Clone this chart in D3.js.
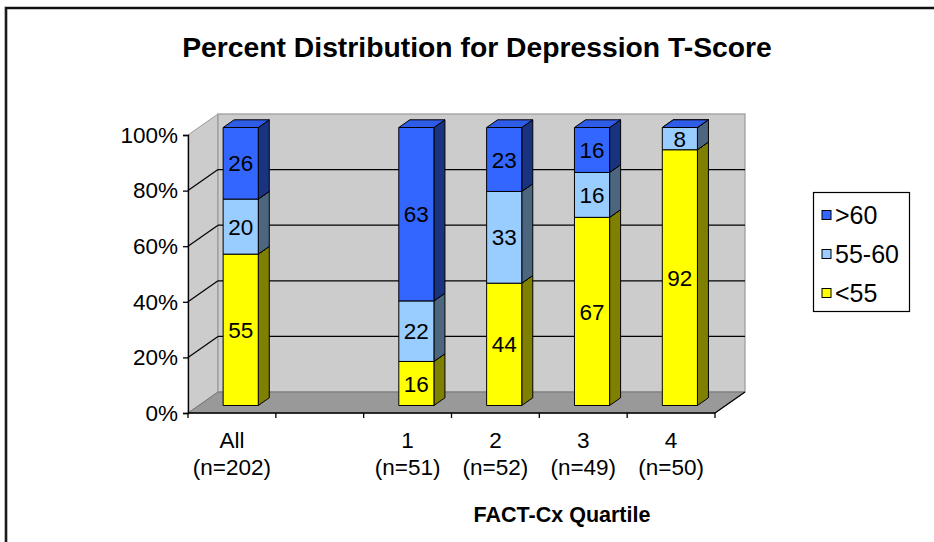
<!DOCTYPE html>
<html>
<head>
<meta charset="utf-8">
<script src="https://cdn.jsdelivr.net/npm/d3@7"></script>
<style>
  html, body { margin: 0; padding: 0; background: #ffffff; }
  svg { display: block; font-family: "Liberation Sans", Arial, sans-serif; }
</style>
</head>
<body>
<svg id="chart" width="934" height="542"></svg>
<script>
// Categories (the empty slot separates the overall group from the quartiles)
const categories = ["All", "", "1", "2", "3", "4"];
const sampleSizes = ["(n=202)", "", "(n=51)", "(n=52)", "(n=49)", "(n=50)"];

// Percent in each T-score band, per category
const below55 = [55, null, 16, 44, 67, 92];
const from55to60 = [20, null, 22, 33, 16, 8];
const above60 = [26, null, 63, 23, 16, 0];

const seriesNames = ["<55", "55-60", ">60"];
const tickLabels = ["0%", "20%", "40%", "60%", "80%", "100%"];
const tickValues = [0, 20, 40, 60, 80, 100];

const title = "Percent Distribution for Depression T-Score";
const xTitle = "FACT-Cx Quartile";

const colors = {
  "<55":   { front: "#ffff00", side: "#808000", top: "#e6e600" },
  "55-60": { front: "#99ccff", side: "#4d6680", top: "#8ab8e6" },
  ">60":   { front: "#3366ff", side: "#1a3380", top: "#2e5ce6" }
};

const svg = d3.select("#chart");

// Plot geometry: front plane and the depth offset to the back wall
const x0 = 188, x1 = 715;
const depth = { dx: 30, dy: -21 };
const bar = { dx: 11, dy: -7.7, front: { dx: 0, dy: -7.5 } };

const x = d3.scaleBand().domain(d3.range(categories.length)).range([x0, x1]).padding(0);
const y = d3.scaleLinear().domain([0, 100]).range([413, 135]);

// Outer frame (top and left edges)
svg.append("path")
  .attr("d", "M6,542 L6,8 L934,8")
  .attr("fill", "none").attr("stroke", "#888").attr("stroke-width", 3.2);
svg.append("path")
  .attr("d", "M6,542 L6,8 L934,8")
  .attr("fill", "none").attr("stroke", "#111").attr("stroke-width", 1.8);

// Title
svg.append("text")
  .attr("x", 477).attr("y", 57)
  .attr("text-anchor", "middle")
  .attr("font-size", 28.3).attr("font-weight", "bold")
  .text(title);

const yTop = y(100), yBot = y(0);

// Side wall
svg.append("polygon")
  .attr("points", [[x0, yTop], [x0 + depth.dx, yTop + depth.dy], [x0 + depth.dx, yBot + depth.dy], [x0, yBot]].join(" "))
  .attr("fill", "#cccccc").attr("stroke", "#999").attr("stroke-width", 1);

// Back wall
svg.append("rect")
  .attr("x", x0 + depth.dx).attr("y", yTop + depth.dy)
  .attr("width", x1 - x0).attr("height", yBot - yTop)
  .attr("fill", "#cccccc").attr("stroke", "#999").attr("stroke-width", 1.2);

// Gridlines on the back wall and the side wall
const gridVals = tickValues.filter(v => v > 0 && v < 100);
svg.append("g").selectAll("line.back").data(gridVals).join("line")
  .attr("x1", x0 + depth.dx).attr("x2", x1 + depth.dx)
  .attr("y1", d => y(d) + depth.dy).attr("y2", d => y(d) + depth.dy)
  .attr("stroke", "#000").attr("stroke-width", 1.2);
svg.append("g").selectAll("line.side").data(gridVals).join("line")
  .attr("x1", x0).attr("x2", x0 + depth.dx)
  .attr("y1", d => y(d)).attr("y2", d => y(d) + depth.dy)
  .attr("stroke", "#000").attr("stroke-width", 1.2);

// Floor
svg.append("polygon")
  .attr("points", [[x0, yBot], [x1, yBot], [x1 + depth.dx, yBot + depth.dy], [x0 + depth.dx, yBot + depth.dy]].join(" "))
  .attr("fill", "#999999").attr("stroke", "#777").attr("stroke-width", 1);
svg.append("line")
  .attr("x1", x1).attr("y1", yBot).attr("x2", x1 + depth.dx).attr("y2", yBot + depth.dy)
  .attr("stroke", "#000").attr("stroke-width", 1.2);

// Y axis
const yAxis = d3.axisLeft(y).tickValues(tickValues).tickFormat((d, i) => tickLabels[i]).tickSize(5).tickPadding(5);
const gy = svg.append("g").attr("transform", `translate(${x0},0)`).call(yAxis);
gy.select(".domain").attr("stroke", "#000").attr("stroke-width", 1.3);
gy.selectAll(".tick line").attr("stroke", "#000").attr("stroke-width", 1.3);
gy.selectAll(".tick text").attr("font-size", 22.5).attr("fill", "#000")
  .attr("font-family", "'Liberation Sans', Arial, sans-serif");

// X axis line with boundary ticks
svg.append("line").attr("x1", x0).attr("x2", x1).attr("y1", yBot).attr("y2", yBot)
  .attr("stroke", "#000").attr("stroke-width", 1.3);
const bounds = d3.range(categories.length + 1).map(i => x0 + i * x.bandwidth());
svg.append("g").selectAll("line").data(bounds).join("line")
  .attr("x1", d => d).attr("x2", d => d).attr("y1", yBot).attr("y2", yBot + 5)
  .attr("stroke", "#000").attr("stroke-width", 1.3);

// Category labels
const catG = svg.append("g").attr("font-size", 22.5).attr("text-anchor", "middle");
catG.selectAll("text.cat").data(categories).join("text")
  .attr("x", (d, i) => x(i) + x.bandwidth() / 2).attr("y", 448).text(d => d);
catG.selectAll("text.n").data(sampleSizes).join("text")
  .attr("x", (d, i) => x(i) + x.bandwidth() / 2).attr("y", 475).text(d => d);

// X axis title
svg.append("text")
  .attr("x", 562).attr("y", 522).attr("text-anchor", "middle")
  .attr("font-size", 21.5).attr("font-weight", "bold")
  .text(xTitle);

// Stacked 3D columns, normalised to 100%
const seriesValues = { "<55": below55, "55-60": from55to60, ">60": above60 };
const barW = x.bandwidth() * 0.4;
const barsG = svg.append("g");
const labelsG = svg.append("g").attr("font-size", 22.5).attr("text-anchor", "middle");

categories.forEach((c, i) => {
  if (below55[i] == null) return;
  const total = seriesNames.reduce((s, k) => s + seriesValues[k][i], 0);
  const xl = x(i) + x.bandwidth() * 0.4 + bar.front.dx;
  const xr = xl + barW;
  let cum = 0;
  seriesNames.forEach(k => {
    const v = seriesValues[k][i];
    const yb = y(cum / total * 100) + bar.front.dy;
    cum += v;
    const yt = y(cum / total * 100) + bar.front.dy;
    const col = colors[k];
    const g = barsG.append("g").attr("stroke", "#000").attr("stroke-width", 1).attr("stroke-linejoin", "round");
    g.append("polygon")
      .attr("points", [[xr, yb], [xr + bar.dx, yb + bar.dy], [xr + bar.dx, yt + bar.dy], [xr, yt]].join(" "))
      .attr("fill", col.side);
    g.append("polygon")
      .attr("points", [[xl, yt], [xr, yt], [xr + bar.dx, yt + bar.dy], [xl + bar.dx, yt + bar.dy]].join(" "))
      .attr("fill", col.top);
    g.append("rect")
      .attr("x", xl).attr("y", yt).attr("width", barW).attr("height", Math.max(0, yb - yt))
      .attr("fill", col.front);
    if (v > 0) {
      labelsG.append("text")
        .attr("x", (xl + xr) / 2).attr("y", (yb + yt) / 2)
        .attr("dy", "0.36em")
        .text(v);
    }
  });
});

// Legend
const legendItems = [">60", "55-60", "<55"];
const legend = svg.append("g");
legend.append("rect").attr("x", 813.5).attr("y", 192.5).attr("width", 96).attr("height", 119)
  .attr("fill", "#fff").attr("stroke", "#000").attr("stroke-width", 1.2);
const li = legend.selectAll("g.item").data(legendItems).join("g")
  .attr("transform", (d, i) => `translate(822, ${215 + i * 39})`);
li.append("rect").attr("x", 0).attr("y", -4.5).attr("width", 9).attr("height", 9)
  .attr("fill", d => colors[d].front).attr("stroke", "#000").attr("stroke-width", 1);
li.append("text").attr("x", 13).attr("y", 0).attr("dy", "0.36em")
  .attr("font-size", 25).text(d => d);
</script>
</body>
</html>
